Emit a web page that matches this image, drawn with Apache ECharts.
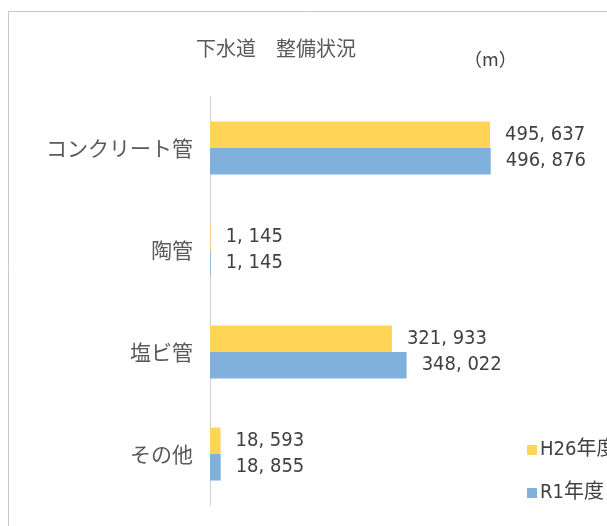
<!DOCTYPE html>
<html>
<head>
<meta charset="utf-8">
<script src="https://cdn.jsdelivr.net/npm/echarts@6/dist/echarts.min.js"></script>
<style>
  html, body { margin: 0; padding: 0; background: #fff; }
  #chart { width: 607px; height: 526px; }
</style>
</head>
<body>
<div id="chart"></div>
<script>
// 下水道 整備状況 (m)
const categories = ['コンクリート管', '陶管', '塩ビ管', 'その他']
const seriesNames = ['H26年度', 'R1年度']
const h26Values = [495637, 1145, 321933, 18593]
const r1Values = [496876, 1145, 348022, 18855]

const colors = { 'H26年度': '#FFD457', 'R1年度': '#80B1DC' }
const jpFont = "'Noto Sans CJK JP', sans-serif"
const numFont = "'Liberation Sans Narrow', 'DejaVu Sans Condensed', 'Noto Sans CJK JP', sans-serif"

function fmt(v) {
  // the source font draws a wide comma, so leave a gap after it
  return v.toLocaleString('en-US').replace(/,/g, ', ')
}

function makeSeries(name, values) {
  return {
    name,
    type: 'bar',
    data: values,
    itemStyle: { color: colors[name] },
    barGap: '0%',
    barCategoryGap: '48%',
    label: {
      show: true,
      position: 'right',
      distance: 15,
      color: '#404040',
      fontSize: 20,
      fontFamily: numFont,
      formatter: p => fmt(p.value)
    },
    emphasis: { disabled: true }
  }
}

const chart = echarts.init(document.getElementById('chart'), null, { renderer: 'canvas' })
chart.setOption({
  backgroundColor: '#fff',
  animation: false,
  graphic: [
    {
      type: 'rect',
      shape: { x: 8.5, y: 11.5, width: 800, height: 800 },
      style: { fill: 'none', stroke: '#c9c9c9', lineWidth: 1 },
      silent: true
    },
    {
      type: 'text',
      left: 464,
      top: 50,
      style: { text: '（m）', fill: '#404040', font: "18px 'Noto Sans CJK JP', sans-serif" }
    }
  ],
  title: {
    text: '下水道　整備状況',
    left: 271,
    textAlign: 'center',
    top: 33,
    textStyle: { color: '#595959', fontSize: 20, fontWeight: 'normal', fontFamily: jpFont }
  },
  legend: {
    orient: 'vertical',
    left: 522,
    top: 435,
    itemWidth: 10,
    itemHeight: 10,
    itemGap: 23,
    icon: 'rect',
    textStyle: { color: '#404040', fontSize: 20, fontFamily: numFont, padding: [0, 0, 0, -2] },
    data: seriesNames
  },
  grid: { left: 210, right: 58, top: 97, bottom: 21, containLabel: false },
  xAxis: {
    type: 'value',
    min: 0,
    max: 600000,
    show: false
  },
  yAxis: {
    type: 'category',
    data: categories,
    inverse: true,
    axisLine: { lineStyle: { color: '#d0d0d0', width: 1 } },
    axisTick: { show: false },
    axisLabel: { color: '#595959', fontSize: 21, fontFamily: jpFont, margin: 17 }
  },
  series: [
    makeSeries('H26年度', h26Values),
    makeSeries('R1年度', r1Values)
  ]
})
</script>
</body>
</html>
